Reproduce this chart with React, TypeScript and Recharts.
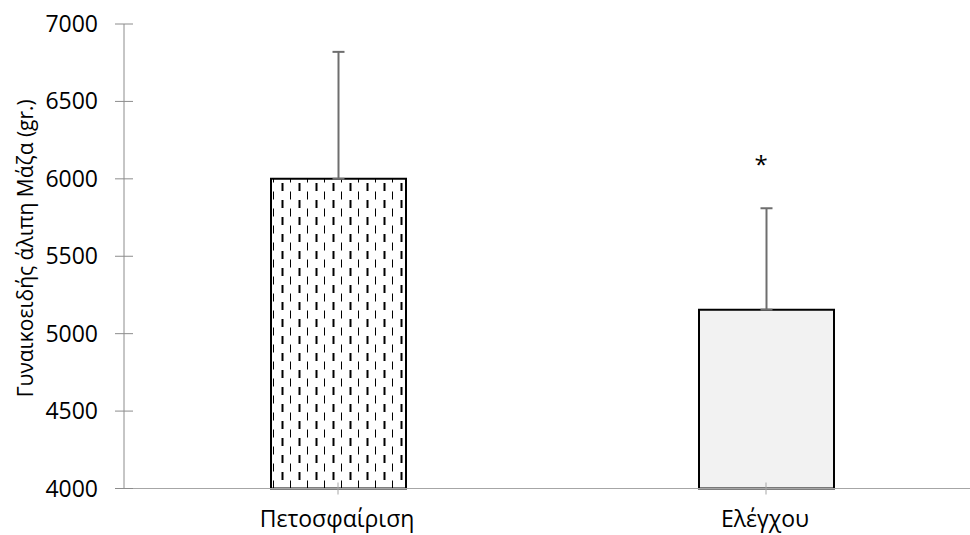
import { Bar, BarChart, Cell, ErrorBar, ReferenceDot, XAxis, YAxis } from 'recharts'

const categories = ['Πετοσφαίριση', 'Ελέγχου']
const means = [6000, 5155]
const sds = [820, 655]
const marks = ['', '*']
const markValues = [null, 6105]
const yTicks = [4000, 4500, 5000, 5500, 6000, 6500, 7000]

const data = categories.map((name, i) => ({
    name,
    mean: means[i],
    err: [0, sds[i]],
}))

const font = '"Open Sans", sans-serif'

const YTick = (props: any) => {
    const { x, y, payload } = props
    return (
        <g>
            <line x1={x + 17} x2={x + 35} y1={y} y2={y} stroke="#8c8c8c" strokeWidth={1} />
            <text x={x} y={y + 8} textAnchor="end" fontSize={23} fontFamily={font} fill="#000">
                {payload.value}
            </text>
        </g>
    )
}

const XTick = (props: any) => {
    const { x, y, payload } = props
    return (
        <g>
            <line x1={x} x2={x} y1={y - 18} y2={y - 6} stroke="#a6a6a6" strokeWidth={1} />
            <text x={x - 1} y={y + 26.5} textAnchor="middle" fontSize={23} fontFamily={font} fill="#000">
                {payload.value}
            </text>
        </g>
    )
}

export default function App() {
    return (
        <div style={{ position: 'absolute', left: 0, top: 0, width: 970, height: 535, overflow: 'hidden', background: '#fff' }}>
            <BarChart width={990} height={535} data={data} margin={{ top: 24, right: 10, left: 0, bottom: 6.5 }}>
                <defs>
                    <pattern id="dashes" patternUnits="userSpaceOnUse" width={17} height={17}>
                        <rect x={0} y={0} width={17} height={17} fill="#fff" />
                        <rect x={1} y={4.5} width={1} height={8} fill="#000" />
                        <rect x={9.5} y={13} width={2} height={8} fill="#000" />
                        <rect x={9.5} y={-4} width={2} height={8} fill="#000" />
                    </pattern>
                </defs>
                <XAxis
                    xAxisId="a"
                    dataKey="name"
                    height={40}
                    stroke="#a6a6a6"
                    tickLine={false}
                    tickSize={6}
                    tickMargin={6}
                    tick={<XTick />}
                    interval={0}
                />
                <XAxis xAxisId="b" dataKey="name" hide />
                <YAxis
                    domain={[4000, 7000]}
                    ticks={yTicks}
                    width={124}
                    stroke="#8c8c8c"
                    tickLine={false}
                    tickSize={9}
                    tickMargin={17}
                    tick={<YTick />}
                    interval={0}
                    label={{
                        content: (p: any) => {
                            const vb = p.viewBox
                            const cx = vb.x + 25
                            const cy = vb.y + vb.height / 2 - 8
                            return (
                                <text
                                    x={cx}
                                    y={cy}
                                    transform={`rotate(-90, ${cx}, ${cy})`}
                                    textAnchor="middle"
                                    dominantBaseline="central"
                                    fontSize={21}
                                    fontFamily={font}
                                    fill="#000"
                                >
                                    Γυναικοειδής άλιπη Μάζα (gr.)
                                </text>
                            )
                        },
                    }}
                />
                <Bar xAxisId="a" dataKey="mean" barSize={135} fill="none" isAnimationActive={false}>
                    <ErrorBar dataKey="err" width={6} stroke="#6e6e6e" strokeWidth={2} direction="y" />
                </Bar>
                <Bar xAxisId="b" dataKey="mean" barSize={135} stroke="#000" strokeWidth={2} isAnimationActive={false}>
                    {data.map((d, i) => (
                        <Cell key={d.name} fill={i === 0 ? 'url(#dashes)' : '#f2f2f2'} />
                    ))}
                </Bar>
                {categories.map((c, i) =>
                    markValues[i] == null ? null : (
                        <ReferenceDot
                            key={c}
                            xAxisId="a"
                            x={c}
                            y={markValues[i] as number}
                            shape={(p: any) => (
                                <text
                                    x={p.cx - 5}
                                    y={p.cy + 10}
                                    textAnchor="middle"
                                    fontSize={24}
                                    fontFamily={font}
                                    fill="#000"
                                >
                                    {marks[i]}
                                </text>
                            )}
                        />
                    )
                )}
            </BarChart>
        </div>
    )
}
